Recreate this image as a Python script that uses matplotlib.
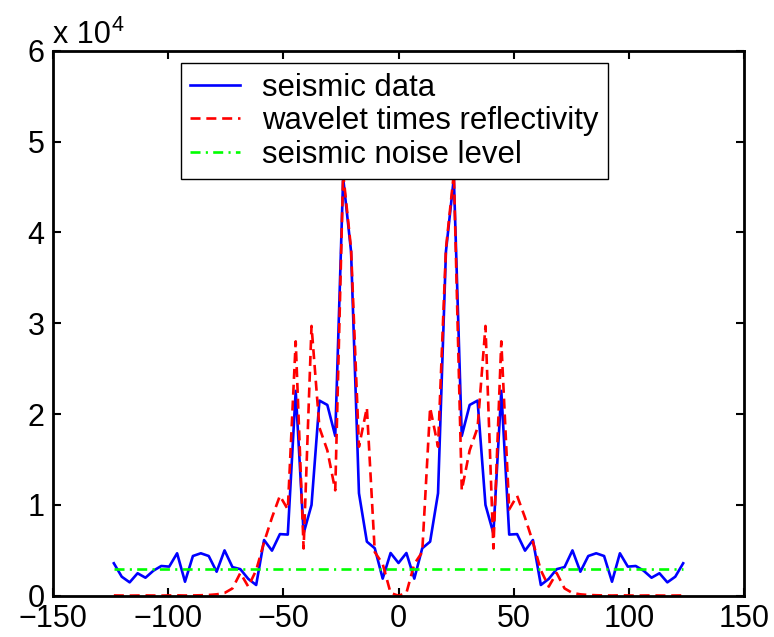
import numpy as np
import matplotlib
matplotlib.use("Agg")
import matplotlib.pyplot as plt

plt.rcParams['font.family'] = ['Liberation Sans', 'DejaVu Sans']

# sample index grid and spacing
idx = np.arange(-36, 37)
step = 3.433
x = idx * step

seismic_data = [3570, 2090, 1470, 2470, 1980, 2750, 3270, 3200, 4670, 1540, 4370, 4670,
                4370, 2640, 4990, 3150, 2920, 1850, 1180, 6130, 4960, 6780, 6730, 22550,
                6870, 9990, 21480, 21000, 17590, 46000, 37900, 11280, 5950, 5220, 1880,
                4700, 3600, 4700, 1880, 5220, 5950, 11280, 37900, 46000, 17590, 21000,
                21480, 9990, 6870, 22550, 6730, 6780, 4960, 6130, 1180, 1850, 2920, 3150,
                4990, 2640, 4370, 4670, 4370, 1540, 4670, 3200, 3270, 2750, 1980, 2470,
                1470, 2090, 3570]

wavelet_reflectivity = [30, 20, 10, 20, 30, 20, 10, 30, 40, 20, 30, 50, 80, 150, 300, 800,
                        2500, 1000, 2800, 5900, 8600, 11000, 9500, 28000, 5200, 29700,
                        18500, 16000, 11600, 46500, 38200, 16400, 20700, 4800, 3500, 300,
                        0, 300, 3500, 4800, 20700, 16400, 38200, 46500, 11600, 16000,
                        18500, 29700, 5200, 28000, 9500, 11000, 8600, 5900, 2800, 1000,
                        2500, 800, 300, 150, 80, 50, 30, 20, 40, 30, 10, 20, 30, 20, 10,
                        20, 30]

noise_level = 2900

labels = ['seismic data', 'wavelet times reflectivity', 'seismic noise level']
xticks = [-150, -100, -50, 0, 50, 100, 150]
yticks = [0, 10000, 20000, 30000, 40000, 50000, 60000]
yticklabels = ['0', '1', '2', '3', '4', '5', '6']

W, H = 774, 637
fig = plt.figure(figsize=(W / 100, H / 100), dpi=100)
ax = fig.add_axes([53 / W, (H - 595.7) / H, 691 / W, 545 / H])

fs = 22
lw = 1.9
ax.plot(x, seismic_data, color=(0, 0, 1), lw=lw, label=labels[0])
ax.plot(x, wavelet_reflectivity, color=(1, 0, 0), lw=lw, dashes=(3.8, 2.2), label=labels[1])
ax.plot([x[0], x[-1]], [noise_level, noise_level], color=(0, 1, 0), lw=lw,
        dashes=(3.8, 2.0, 0.8, 2.0), label=labels[2])

ax.set_xlim(-150, 150)
ax.set_ylim(0, 60000)
ax.set_xticks(xticks)
ax.set_xticklabels([('\u2212' + str(-t)) if t < 0 else str(t) for t in xticks])
ax.set_yticks(yticks)
ax.set_yticklabels(yticklabels)
ax.tick_params(direction='in', length=6, width=1.5, labelsize=fs, top=True, right=True,
               pad=6)
for s in ax.spines.values():
    s.set_linewidth(2.0)

fig.text(53 / W, (H - 43) / H, 'x 10', fontsize=fs, ha='left', va='baseline')
fig.text(111 / W, (H - 31) / H, '4', fontsize=15.5, ha='left', va='baseline')

leg = ax.legend(loc='upper left', bbox_to_anchor=(0.185, 0.977), borderaxespad=0,
                fontsize=22.4, handlelength=1.6, handletextpad=0.72, borderpad=0.3,
                labelspacing=0.12, fancybox=False, framealpha=1, edgecolor='black')
leg.get_frame().set_linewidth(1.0)

fig.savefig('out.png', dpi=100)
